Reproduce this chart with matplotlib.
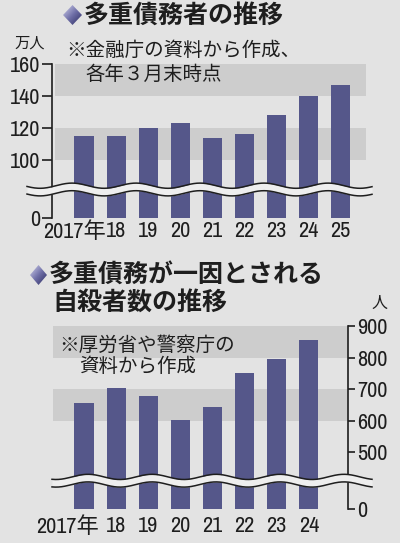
import matplotlib
matplotlib.use("Agg")
import matplotlib.pyplot as plt
import numpy as np
from matplotlib import font_manager
from matplotlib.colors import LinearSegmentedColormap
from matplotlib.patches import Polygon
from matplotlib.transforms import ScaledTranslation

# data
debt_years = ["2017年", "18", "19", "20", "21", "22", "23", "24", "25"]
debt_people = [115, 115, 120, 123, 114, 116, 128, 140, 147]  # 万人
debt_ticks = [0, 100, 120, 140, 160]

suicide_years = ["2017年", "18", "19", "20", "21", "22", "23", "24"]
suicide_people = [655, 704, 679, 602, 645, 752, 794, 855]  # 人
suicide_ticks = [0, 500, 600, 700, 800, 900]

BG = "#e3e3e3"
GAP = "#eeeeee"
BAND = "#cdcdcd"
BAR = "#55578a"
INK = "#1e1e1e"

# condensed face for the numbers, whichever one is around
names = {f.name for f in font_manager.fontManager.ttflist}
NUM = "Liberation Sans"
for cand in ["Liberation Sans Narrow", "Archivo Narrow", "Roboto Condensed",
             "PT Sans Narrow", "Barlow Condensed", "Asap Condensed"]:
    if cand in names:
        NUM = cand
        break
JP = "Noto Sans CJK JP"
plt.rcParams["font.family"] = [NUM, JP, "DejaVu Sans"]

W, H = 400, 543
fig = plt.figure(figsize=(W / 100, H / 100), dpi=100, facecolor=BG)


def px_axes(l, t, r, b):
    return fig.add_axes([l / W, 1 - b / H, (r - l) / W, (b - t) / H])


def broken(lo_end, zero_at):
    # linear above lo_end, squeezed below it
    def fwd(v):
        v = np.asarray(v, dtype=float)
        return np.where(v >= lo_end, v, zero_at + v * (lo_end - zero_at) / lo_end)

    def inv(u):
        u = np.asarray(u, dtype=float)
        return np.where(u >= lo_end, u, (u - zero_at) * lo_end / (lo_end - zero_at))
    return fwd, inv


def setup(ax, labels, ticks, ylim, bands, side, ticklen, xpad, shift):
    ax.set_facecolor("none")
    for s in ["top", "bottom", "left", "right"]:
        ax.spines[s].set_visible(s == side)
    ax.spines[side].set_linewidth(1.2)
    ax.spines[side].set_color(INK)
    ax.set_ylim(*ylim)
    ax.set_yticks(ticks)
    ax.set_yticklabels([str(t) for t in ticks])
    ax.yaxis.set_ticks_position(side)
    ax.tick_params(axis="y", length=ticklen, width=1.2, color=INK, labelsize=16,
                   labelcolor=INK, pad=1.5)
    for lo, hi in bands:
        ax.axhspan(lo, hi, color=BAND, lw=0, zorder=0)
    ax.set_xticks(range(len(labels)))
    ax.set_xticklabels(labels)
    ax.tick_params(axis="x", length=0, labelsize=16, labelcolor=INK, pad=xpad)
    # first label ("2017年") hangs to the left of its bar
    first = ax.get_xticklabels()[0]
    first.set_transform(first.get_transform() + ScaledTranslation(shift, 0, fig.dpi_scale_trans))


# top chart
ax1 = px_axes(52, 64, 366, 218)
f1, i1 = broken(80, 63.75)
ax1.set_yscale("function", functions=(f1, i1))
ax1.set_xlim(-1.0, 8.79)
ax1.bar(range(len(debt_people)), debt_people, width=0.6, color=BAR, zorder=2)
setup(ax1, debt_years, debt_ticks, (0, 160), [(100, 120), (140, 160)], "left", 7, 2.5, -0.10)
ax1.axhspan(100, 120, xmin=0, xmax=0.01, color=BG, lw=0, zorder=1)
ax1.axhspan(140, 160, xmin=0, xmax=0.01, color=BG, lw=0, zorder=1)

# bottom chart
ax2 = px_axes(53, 326, 348, 509.3)
f2, i2 = broken(400, 319.5)
ax2.set_yscale("function", functions=(f2, i2))
ax2.set_xlim(-0.966, 8.22)
ax2.bar(range(len(suicide_people)), suicide_people, width=0.6, color=BAR, zorder=2)
setup(ax2, suicide_years, suicide_ticks, (0, 900), [(600, 700), (800, 900)], "right", 5, 5, -0.17)

# overlay for titles, notes and break marks (pixel coordinates)
ov = fig.add_axes([0, 0, 1, 1], zorder=5)
ov.set_xlim(0, W)
ov.set_ylim(H, 0)
ov.axis("off")
ov.patch.set_visible(False)


def wave(x0, x1, yc, phase):
    x = np.linspace(x0, x1, 500)
    y = yc + 2.6 * np.sin(2 * np.pi * (x - phase) / 64)
    ov.fill_between(x, y - 3.8, y + 3.8, color=GAP, lw=0)
    ov.plot(x, y - 3.8, color=INK, lw=1.1)
    ov.plot(x, y + 3.8, color=INK, lw=1.1)


wave(27, 372, 189.5, 24)
wave(52, 372, 480.7, 40)

dcmap = LinearSegmentedColormap.from_list("d", ["#d4d4ee", "#7070a8", "#2a2a60"])


def diamond(cx, cy, hw, hh):
    verts = [(cx - hw, cy), (cx, cy - hh), (cx + hw, cy), (cx, cy + hh)]
    poly = Polygon(verts, closed=True, fc="none", ec="none")
    ov.add_patch(poly)
    g = np.linspace(0, 1, 64)
    grad = np.add.outer(g, g) / 2
    im = ov.imshow(grad, cmap=dcmap, extent=(cx - hw, cx + hw, cy + hh, cy - hh),
                   origin="upper", aspect="auto", zorder=3)
    im.set_clip_path(poly)


diamond(72.5, 15, 9.5, 10)
diamond(38.5, 275, 8.5, 10)

tkw = dict(family=[JP], color=INK, va="center", ha="left")
ov.text(84, 16, "多重債務者の推移", fontsize=18, weight="bold", **tkw)
ov.text(14, 43, "万人", fontsize=11, **tkw)
ov.text(66, 50, "※金融庁の資料から作成、", fontsize=14, **tkw)
ov.text(85, 74, "各年３月末時点", fontsize=14, **tkw)

ov.text(49, 275, "多重債務が一因とされる", fontsize=18, weight="bold", **tkw)
ov.text(52, 303, "自殺者数の推移", fontsize=18, weight="bold", **tkw)
ov.text(371, 303, "人", fontsize=11.5, **tkw)
ov.text(59, 345, "※厚労省や警察庁の", fontsize=14, **tkw)
ov.text(79, 367, "資料から作成", fontsize=14, **tkw)

fig.savefig("out.png", dpi=100, facecolor=BG)
